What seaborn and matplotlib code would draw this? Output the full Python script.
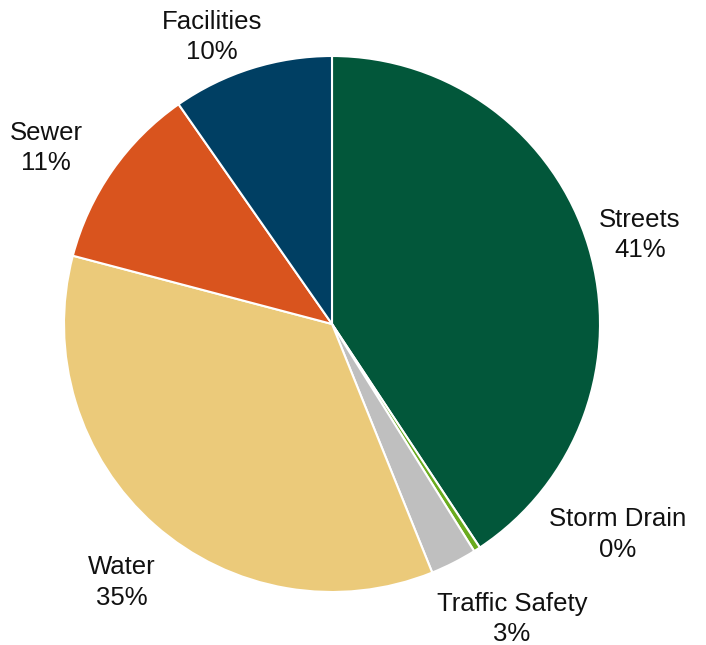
import matplotlib
matplotlib.use("Agg")
import matplotlib.pyplot as plt
import seaborn as sns

# Capital budget share by program
categories = ["Streets", "Storm Drain", "Traffic Safety", "Water", "Sewer", "Facilities"]
shares = [40.7, 0.4, 2.8, 35.2, 11.2, 9.7]
pct_labels = ["41%", "0%", "3%", "35%", "11%", "10%"]

colors = ["#02573A", "#6AAB1E", "#BFBFBF", "#EBCA7A", "#D9541E", "#003F63"]

# Label anchors (data units, pie radius = 1)
label_pos = [(1.149, 0.332), (1.067, -0.787), (0.672, -1.101),
             (-0.784, -0.966), (-1.067, 0.657), (-0.448, 1.071)]

sns.set_theme(style="white")
plt.rcParams["font.family"] = ["Liberation Sans", "DejaVu Sans"]

fig = plt.figure(figsize=(7.06, 6.45), dpi=100)
ax = fig.add_axes([0, 0, 1, 1])

ax.pie(shares, colors=colors, startangle=90, counterclock=False, radius=1.0,
       wedgeprops=dict(edgecolor="white", linewidth=1.5))

for name, pct, (x, y) in zip(categories, pct_labels, label_pos):
    ax.text(x, y, f"{name}\n{pct}", ha="center", va="center",
            fontsize=18.5, color="#111111", linespacing=1.36)

ax.set_xlim(-332 / 268, (706 - 332) / 268)
ax.set_ylim(-(645 - 324) / 268, 324 / 268)
ax.set_aspect("auto")
ax.axis("off")

fig.savefig("out.png", dpi=100, facecolor="white")
